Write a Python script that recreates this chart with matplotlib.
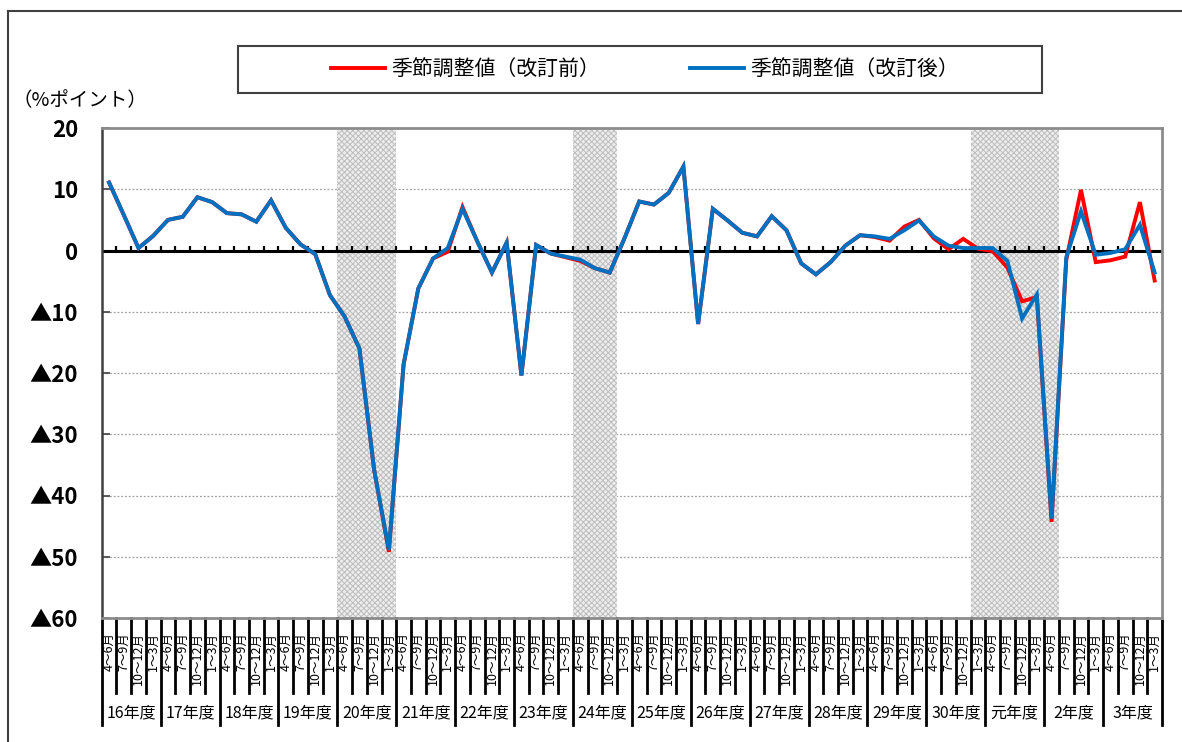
import matplotlib
matplotlib.use("Agg")
import matplotlib.pyplot as plt
from matplotlib.lines import Line2D
from matplotlib.patches import Rectangle

# ---------------- data ----------------
years = ["16年度", "17年度", "18年度", "19年度", "20年度", "21年度", "22年度", "23年度", "24年度",
         "25年度", "26年度", "27年度", "28年度", "29年度", "30年度", "元年度", "2年度", "3年度"]
quarters = ["4～6月", "7～9月", "10～12月", "1～3月"]

before_rev = [11.1, 5.8, 0.4, 2.4, 5.0, 5.5, 8.7, 7.9, 6.1, 5.9,
              4.7, 8.2, 3.7, 1.0, -0.6, -7.3, -10.8, -16.0, -35.8, -49.2,
              -18.6, -6.2, -1.3, -0.2, 7.1, 1.5, -3.6, 1.3, -20.4, 0.9,
              -0.5, -1.1, -1.7, -2.9, -3.6, 2.0, 8.0, 7.5, 9.4, 13.7,
              -12.0, 6.8, 4.9, 2.9, 2.3, 5.6, 3.3, -2.1, -3.9, -1.9,
              0.8, 2.5, 2.2, 1.6, 3.9, 5.0, 2.0, 0.2, 1.9, 0.3,
              -0.1, -2.8, -8.3, -7.6, -44.3, -1.5, 9.9, -1.9, -1.6, -1.0,
              7.9, -4.9]
after_rev = [11.1, 5.8, 0.4, 2.4, 5.0, 5.5, 8.7, 7.9, 6.1, 5.9,
             4.7, 8.2, 3.7, 1.0, -0.6, -7.3, -10.8, -16.0, -35.8, -48.9,
             -18.6, -6.2, -1.3, 0.4, 6.8, 1.5, -3.6, 1.3, -20.4, 0.9,
             -0.5, -1.0, -1.5, -2.9, -3.6, 2.0, 8.0, 7.5, 9.4, 13.7,
             -12.0, 6.8, 4.9, 2.9, 2.3, 5.6, 3.3, -2.1, -3.9, -1.9,
             0.8, 2.5, 2.3, 1.9, 3.3, 4.9, 2.3, 0.8, 0.4, 0.4,
             0.4, -1.7, -11.1, -7.2, -43.8, -1.1, 6.4, -0.7, -0.4, 0.2,
             4.2, -3.6]
# shaded (recession) periods, as [start index, end index) of quarters
shaded = [(16, 20), (32, 35), (59, 65)]
y_ticks = [20, 10, 0, -10, -20, -30, -40, -50, -60]
y_tick_labels = ["20", "10", "0", "▲10", "▲20", "▲30", "▲40", "▲50", "▲60"]
label_before = "季節調整値（改訂前）"
label_after = "季節調整値（改訂後）"
y_unit = "（%ポイント）"

JP = ["Noto Sans CJK JP", "DejaVu Sans"]
plt.rcParams["font.family"] = JP
plt.rcParams["hatch.linewidth"] = 0.7

W, H = 1182, 742
fig = plt.figure(figsize=(W / 100, H / 100), dpi=100)
L, R, T, B = 101.7, 1162, 128, 618
ax = fig.add_axes([L / W, 1 - B / H, (R - L) / W, (B - T) / H])

n = len(after_rev)
x = [i + 0.5 for i in range(n)]

ax.set_xlim(0, n)
ax.set_ylim(-60, 20)

# grid
ax.set_yticks(y_ticks)
ax.set_yticklabels(y_tick_labels, fontsize=16, fontweight="bold")
ax.yaxis.grid(True, color="#a0a0a0", linestyle=(0, (1.5, 1.5)), linewidth=0.9, zorder=0)
ax.set_axisbelow(True)
ax.tick_params(axis="y", direction="in", length=6, width=1.2, pad=17, color="#404040")
ax.set_xticks([])

# shaded periods
for s, e in shaded:
    ax.axvspan(s, e, facecolor="#ededed", edgecolor="#bdbdbd", hatch="xxxxxx",
               linewidth=0, zorder=1)

# zero line with small ticks
ax.axhline(0, color="black", linewidth=2.2, zorder=2)
ax.vlines(range(1, n), 0, 0.8, color="black", linewidth=1.6, zorder=2)

# series
l1, = ax.plot(x, before_rev, color="#ff0000", linewidth=2.8, zorder=3, solid_joinstyle="miter")
l2, = ax.plot(x, after_rev, color="#0070c0", linewidth=2.8, zorder=4, solid_joinstyle="miter")

# spines
for side in ["top", "right", "bottom"]:
    ax.spines[side].set_color("#8c8c8c")
    ax.spines[side].set_linewidth(2)
ax.spines["left"].set_color("#404040")
ax.spines["left"].set_linewidth(1.8)

# category table below the axis
xt = ax.get_xaxis_transform()
ah = B - T
y_short = -(693 - B) / ah
y_long = -(725 - B) / ah
y_qlab = -(632 - B) / ah
y_ylab = -(713 - B) / ah
for j in range(n + 1):
    y_end = y_long if j % 4 == 0 else y_short
    ax.add_line(Line2D([j, j], [0, y_end], transform=xt, color="black",
                       linewidth=2, clip_on=False))
for i in range(n):
    ax.text(i + 0.5, y_qlab, quarters[i % 4], transform=xt, rotation=90,
            ha="center", va="top", fontsize=9, clip_on=False)
for k, yl in enumerate(years):
    ax.text(4 * k + 2, y_ylab, yl, transform=xt, ha="center", va="center",
            fontsize=11.5, clip_on=False)

# legend with its frame
fig.add_artist(Rectangle((238 / W, 1 - 93 / H), (1042 - 238) / W, (93 - 46) / H,
                         transform=fig.transFigure, facecolor="white",
                         edgecolor="#404040", linewidth=1.5))
fig.legend([l1, l2], [label_before, label_after], ncol=2, loc="center",
           bbox_to_anchor=(645 / W, 1 - 69.5 / H), frameon=False, fontsize=15,
           handlelength=2.6, handletextpad=0.3, columnspacing=4.3)

# unit label
fig.text(12 / W, 1 - 101 / H, y_unit, ha="left", va="center", fontsize=14)

# outer frame (left and top edges)
fig.add_artist(Line2D([8 / W, 8 / W], [0, 1 - 11 / H], transform=fig.transFigure,
                      color="#404040", linewidth=1.5))
fig.add_artist(Line2D([8 / W, 1], [1 - 11 / H, 1 - 11 / H], transform=fig.transFigure,
                      color="#404040", linewidth=1.5))

fig.savefig("out.png", dpi=100)
